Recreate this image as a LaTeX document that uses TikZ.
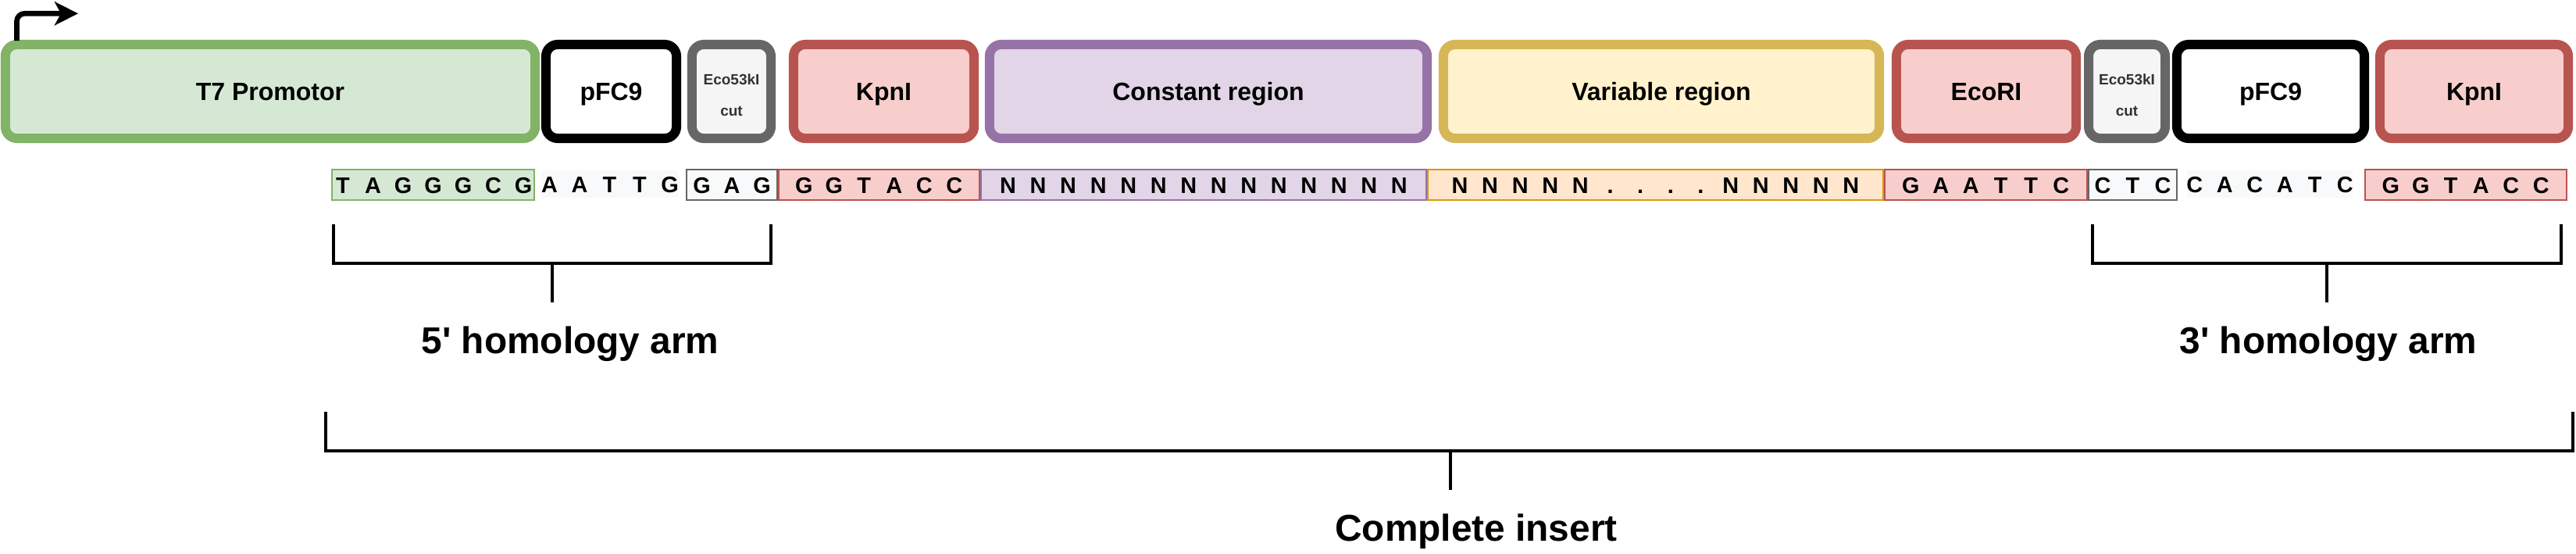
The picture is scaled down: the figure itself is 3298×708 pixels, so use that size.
\documentclass[tikz,border=0pt]{standalone}
\usepackage{fontspec}
\setmainfont{Liberation Sans}
\usepackage{xcolor}
\usepackage{tikz}
\usetikzlibrary{arrows.meta, positioning}

\definecolor{promofill}{HTML}{D5E8D4}
\definecolor{promoline}{HTML}{82B366}
\definecolor{cutfill}{HTML}{F5F5F5}
\definecolor{cutline}{HTML}{666666}
\definecolor{cuttext}{HTML}{333333}
\definecolor{sitefill}{HTML}{F8CECC}
\definecolor{siteline}{HTML}{B85450}
\definecolor{constfill}{HTML}{E1D5E7}
\definecolor{constline}{HTML}{9673A6}
\definecolor{varfill}{HTML}{FFF2CC}
\definecolor{varline}{HTML}{D6B656}
\definecolor{vseqfill}{HTML}{FFE6CC}
\definecolor{vseqline}{HTML}{D79B00}
\definecolor{textbg}{HTML}{F8F9FA}

% bases set one per slot, centred on the node
\newcommand{\bases}[1]{\makebox[0pt]{\foreach \nt in {#1}{\makebox[0.385cm]{\nt}}}}

\tikzset{
  part/.style={rounded corners=0.15cm, line width=0.12cm, minimum height=1.2cm, inner sep=0pt,
    text height=0.22cm, text depth=0cm, font=\bfseries\fontsize{9.1}{11}\selectfont},
  cutpart/.style={part, draw=cutline, fill=cutfill, text=cuttext, align=center,
    text height=0.62cm, font=\bfseries\fontsize{5.4}{11.1}\selectfont},
  seq/.style={line width=0.02cm, minimum height=0.39cm, inner sep=0pt,
    text height=0.21cm, text depth=0cm, font=\bfseries\fontsize{8.2}{10}\selectfont},
  bracket/.style={line width=0.043cm},
  armlabel/.style={anchor=base, inner sep=0pt, font=\bfseries\fontsize{13.6}{16}\selectfont}
}

\begin{document}
\begin{tikzpicture}[x=0.01cm, y=-0.01cm]
\useasboundingbox (0,0) rectangle (3298,708);
% construct parts
\node[part, draw=promoline, fill=promofill, minimum width=6.78cm] (t7) at (346,117) {T7 Promotor};
\node[part, draw=black, fill=white, minimum width=1.67cm] (fc9a) at (782.5,117) {pFC9};
\node[cutpart, minimum width=1.01cm] (cuta) at (936.5,117) {Eco53kI\\cut};
\node[part, draw=siteline, fill=sitefill, minimum width=2.31cm] (kpna) at (1131.5,117) {KpnI};
\node[part, draw=constline, fill=constfill, minimum width=5.60cm] (const) at (1547,117) {Constant region};
\node[part, draw=varline, fill=varfill, minimum width=5.58cm] (var) at (2127,117) {Variable region};
\node[part, draw=siteline, fill=sitefill, minimum width=2.30cm] (eco) at (2543,117) {EcoRI};
\node[cutpart, minimum width=0.98cm] (cutb) at (2723,117) {Eco53kI\\cut};
\node[part, draw=black, fill=white, minimum width=2.40cm] (fc9b) at (2907,117) {pFC9};
\node[part, draw=siteline, fill=sitefill, minimum width=2.41cm] (kpnb) at (3167.5,117) {KpnI};
% promoter arrow
\draw[line width=0.067cm, rounded corners=0.1cm, -{Stealth[length=0.3cm, width=0.3cm, inset=0.08cm]}] (21.5,52) |- (100,17.3);
% sequence
\node[seq, draw=promoline, fill=promofill, minimum width=2.59cm] (t7seq) at (554.5,236.5) {\bases{T,A,G,G,G,C,G}};
\node[seq, fill=textbg, minimum height=0.35cm, minimum width=1.75cm] (gapseq) at (780.5,235.5) {\bases{A,A,T,T,G}};
\node[seq, draw=cutline, fill=textbg, minimum width=1.16cm] (cutseqa) at (937,236.5) {\bases{G,A,G}};
\node[seq, draw=siteline, fill=sitefill, minimum width=2.57cm] (kpnseqa) at (1125.5,236.5) {\bases{G,G,T,A,C,C}};
\node[seq, draw=constline, fill=constfill, minimum width=5.70cm] (constseq) at (1541,236.5) {\bases{N,N,N,N,N,N,N,N,N,N,N,N,N,N}};
\node[seq, draw=vseqline, fill=vseqfill, minimum width=5.83cm] (varseq) at (2119.5,236.5) {\bases{N,N,N,N,N,.,.,.,.,N,N,N,N,N}};
\node[seq, draw=siteline, fill=sitefill, minimum width=2.59cm] (ecoseq) at (2542.5,236.5) {\bases{G,A,A,T,T,C}};
\node[seq, draw=cutline, fill=textbg, minimum width=1.13cm] (cutseqb) at (2730.5,236.5) {\bases{C,T,C}};
\node[seq, fill=textbg, minimum height=0.35cm, minimum width=2.12cm] (tailseq) at (2906,235.5) {\bases{C,A,C,A,T,C}};
\node[seq, draw=siteline, fill=sitefill, minimum width=2.58cm] (kpnseqb) at (3157,236.5) {\bases{G,G,T,A,C,C}};
% homology arms
\draw[bracket] (427,287) |- (987,337) -- (987,287);
\draw[bracket] (707,337) -- (707,387);
\node[armlabel] (arm5) at (730,452) {5\textquotesingle{} homology arm};
\draw[bracket] (2679,287) |- (3279,337) -- (3279,287);
\draw[bracket] (2979,337) -- (2979,387);
\node[armlabel] (arm3) at (2981,452) {3\textquotesingle{} homology arm};
% whole insert
\draw[bracket] (417,527) |- (3294,577) -- (3294,527);
\draw[bracket] (1857,577) -- (1857,627);
\node[armlabel] (insert) at (1890,692) {Complete insert};
\end{tikzpicture}
\end{document}
